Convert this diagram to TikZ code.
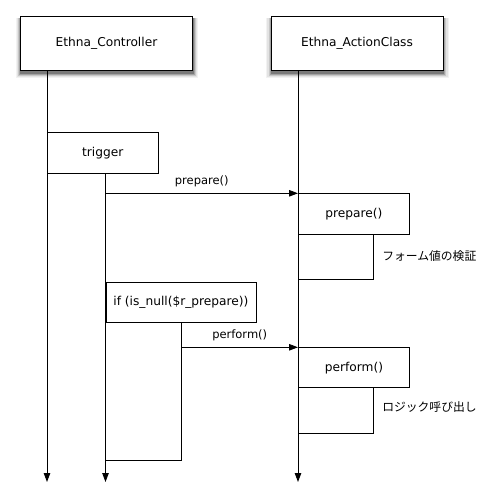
\documentclass[tikz,border=0pt]{standalone}
\usepackage{fontspec}
\setmainfont{DejaVu Sans}
\newfontfamily\jpfont{Noto Sans CJK JP}
\usepackage{tikz}
\usetikzlibrary{positioning,arrows.meta,backgrounds}

\begin{document}
\begin{tikzpicture}[
        x=1pt, y=-1pt,
        line width=0.9pt,
        head/.style={draw, fill=white, minimum width=172pt, minimum height=54pt, font=\fontsize{12.2}{14}\selectfont},
        act/.style={draw, fill=white, anchor=north west, inner sep=2pt, font=\fontsize{12.2}{14}\selectfont},
        life/.style={-{Triangle[length=9pt,width=6.5pt]}},
        msg/.style={-{Triangle[length=9pt,width=6.5pt]}},
        msglabel/.style={above=3pt, font=\fontsize{11.5}{13}\selectfont},
        note/.style={anchor=west, font=\jpfont\fontsize{11.8}{14}\selectfont}
    ]
    \useasboundingbox (0,0) rectangle (490,494);

    % オブジェクト
    \node[head] (ctrl) at (106.5,43) {Ethna\_Controller};
    \node[head] (action) at (357,43) {Ethna\_ActionClass};

    % 影
    \begin{scope}[on background layer]
        \foreach \n in {ctrl,action}
            \foreach \e/\g in {5/5,3.8/11,2.5/22,1.4/36,0.5/52}
                \fill[black!\g] ([xshift=-\e pt+0.5pt, yshift=-2pt]\n.north west) rectangle ([xshift=\e pt+0.5pt, yshift=-3pt-\e pt]\n.south east);
    \end{scope}

    % ライフラインの終点
    \coordinate (ctrlbot) at (47,482);
    \coordinate (trigbot) at (105.5,482);
    \coordinate (actbot) at (298,482);

    % 実行ブロック
    \node[act, minimum width=110.5pt, minimum height=40.5pt] (trigger) at (47,132.5) {trigger};
    \node[act, minimum width=111pt, minimum height=41pt] (prep) at (298,193.3) {prepare()};
    \node[act, minimum width=150pt, minimum height=40.3pt] (cond) at (105.5,281.7) {if (is\_null(\$r\_prepare))};
    \node[act, minimum width=111pt, minimum height=40pt] (perf) at (298,347.3) {perform()};

    % 戻り
    \coordinate (prepret) at (373,279.3);
    \coordinate (condret) at (181.5,460.3);
    \coordinate (perfret) at (373,433);

    % ライフライン
    \draw[life] (ctrl.south -| ctrlbot) -- (ctrlbot);
    \draw[life] (trigger.south -| trigbot) -- (trigbot);
    \draw[life] (action.south -| actbot) -- (actbot);

    \draw (prep.south -| prepret) -- (prepret) -- (prepret -| prep.west);
    \draw (cond.south -| condret) -- (condret) -- (condret -| cond.west);
    \draw (perf.south -| perfret) -- (perfret) -- (perfret -| perf.west);

    % メッセージ
    \draw[msg] (trigbot |- prep.north west) -- (prep.north west) node[midway, msglabel] {prepare()};
    \draw[msg] (condret |- perf.north west) -- (perf.north west) node[midway, msglabel] {perform()};

    % 注記
    \node[note] (check) at (378.5,256) {フォーム値の検証};
    \node[note] (logic) at (378.5,406.7) {ロジック呼び出し};

\end{tikzpicture}
\end{document}
